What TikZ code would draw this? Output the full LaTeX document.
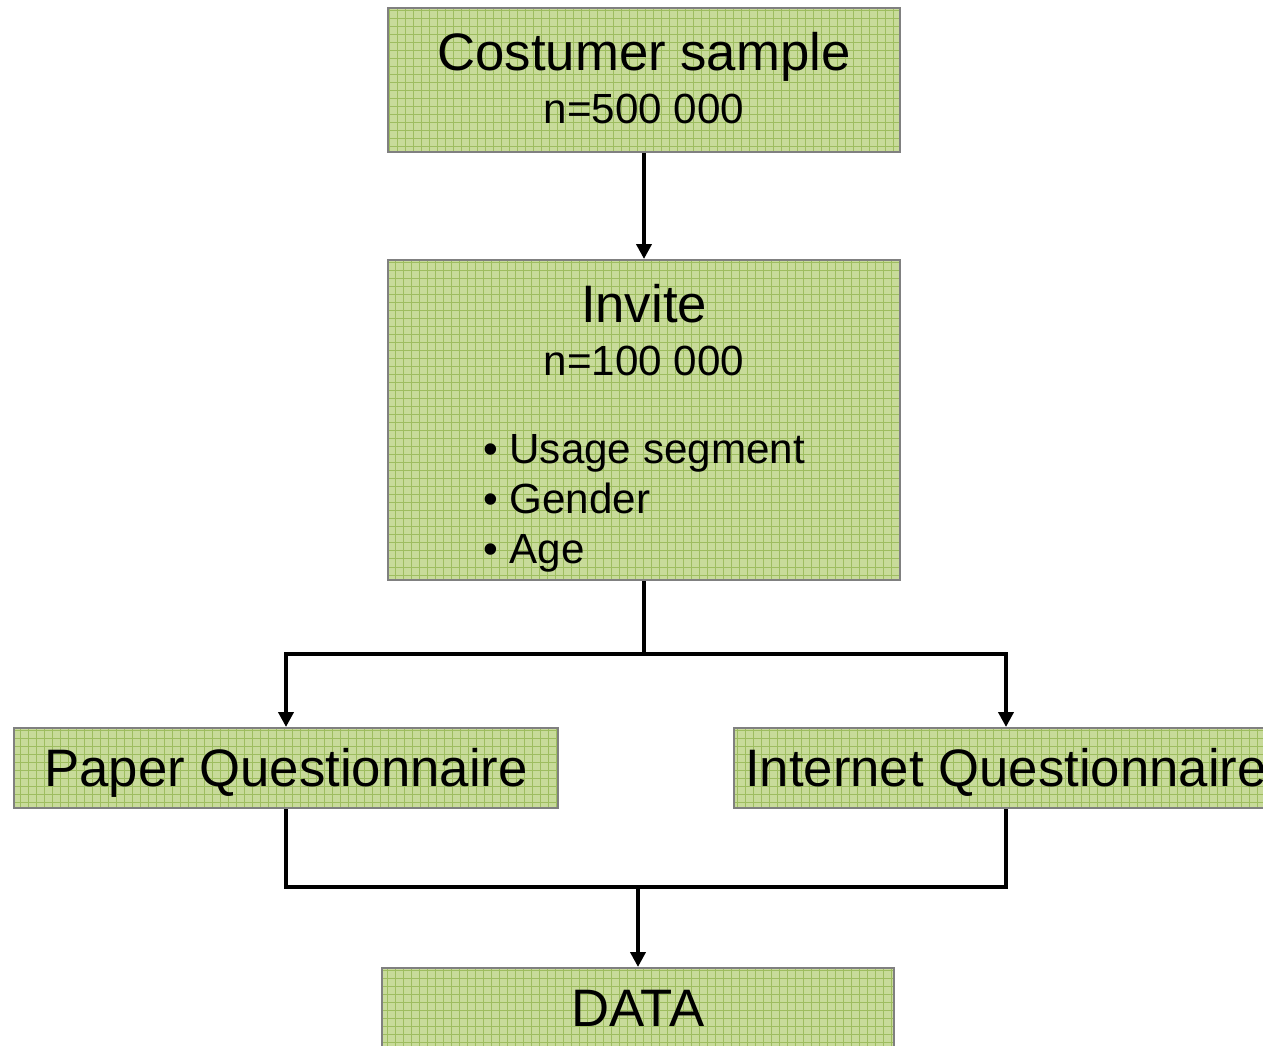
\documentclass[tikz,border=0pt]{standalone}
\usepackage{fontspec}
\setmainfont{Liberation Sans}
\usetikzlibrary{arrows.meta}
\definecolor{paleolive}{RGB}{200,219,154}
\definecolor{gridolive}{RGB}{158,189,96}
\newcommand{\boxFill}{paleolive}
\newcommand{\boxGrid}{gridolive}
\newcommand{\bigText}{\fontsize{30}{36}\selectfont}

\begin{document}
\begin{tikzpicture}[inner sep=0pt,
	box/.style={draw=gray, line width=0.04cm, fill=\boxFill, minimum width=10.24cm,
		font=\fontsize{24}{30}\selectfont,
		path picture={\draw[\boxGrid, line width=0.5pt, step=0.16]
			(path picture bounding box.south west) grid (path picture bounding box.north east);}},
	flat/.style={box, minimum height=1.6cm, font=\bigText, text height=21.5pt, text depth=0pt},
	link/.style={line width=0.09cm},
	arr/.style={link, -{Triangle[width=0.3cm,length=0.3cm]}}]
	\useasboundingbox (0,0) rectangle (25.26,-20.9);
	\node[box, minimum height=2.88cm] (sample) at (12.88,-1.6) {\begin{tabular}{@{}c@{}}
			\rule{0pt}{28pt}{\bigText Costumer sample}\\
			n=500 000
		\end{tabular}};
	\node[box, minimum height=6.4cm] (invite) at (12.88,-8.4) {\begin{tabular}{@{}c@{}}
			\rule{0pt}{35pt}{\bigText Invite}\\
			n=100 000\\[20pt]
			\begin{tabular}{@{}l@{}}
				\textbullet\ Usage segment\\[-1.5pt]
				\textbullet\ Gender\\[-1.5pt]
				\textbullet\ Age
			\end{tabular}
		\end{tabular}};
	\node[flat, minimum width=10.88cm] (paper) at (5.72,-15.36) {Paper Questionnaire};
	\node[flat, minimum width=10.88cm] (internet) at (20.12,-15.36) {Internet Questionnaire};
	\node[flat] (data) at (12.76,-20.16) {DATA};
	\coordinate (split) at (12.88,-13.08);
	\coordinate (join) at (12.76,-17.74);
	\draw[arr] (sample) -- (invite);
	\draw[link] (invite.south) -- (split);
	\draw[arr] (split) -| (paper.north);
	\draw[arr] (split) -| (internet.north);
	\draw[link] (paper.south) |- (join) -| (internet.south);
	\draw[arr] (join) -- (data);
\end{tikzpicture}
\end{document}
